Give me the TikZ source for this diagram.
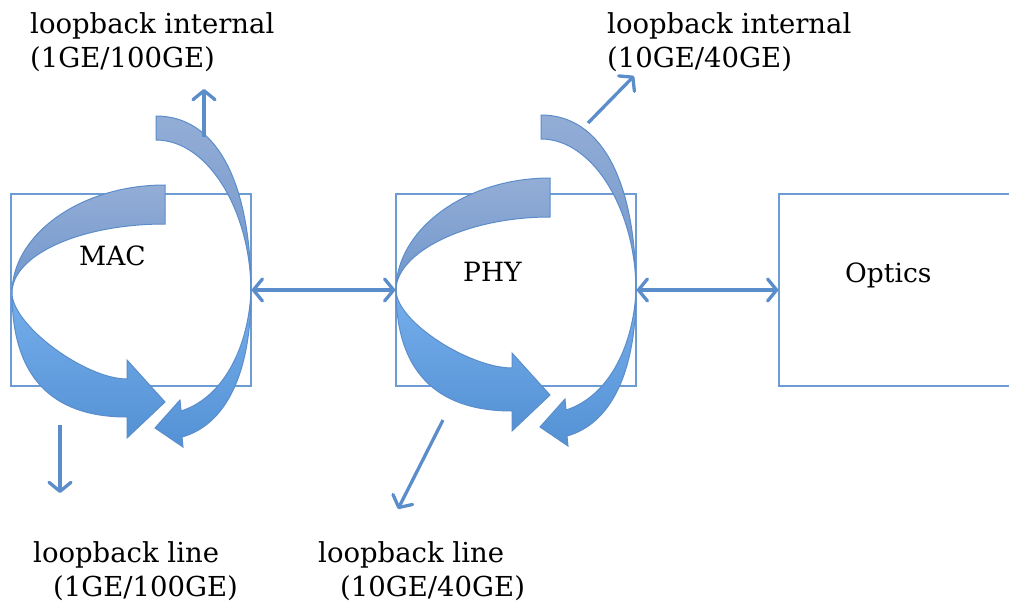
\documentclass[tikz,border=0pt]{standalone}
\usepackage{fontspec}
\setmainfont{DejaVu Serif}
\usetikzlibrary{arrows.meta}

\definecolor{edge}{HTML}{5B8DCB}
\definecolor{boxline}{HTML}{6D9BD3}
\definecolor{upA}{HTML}{93ADD6}
\definecolor{upB}{HTML}{7096CB}
\definecolor{loA}{HTML}{76AEEC}
\definecolor{loB}{HTML}{5492D5}

\newcommand\thinloopshape{%
  \path[backband] (156,116) .. controls (218,116) and (251,185) .. (251,292)
     .. controls (251,212) and (208.5,140) .. (156,140) -- cycle;
  \path[frontband] (251,292) .. controls (251,375) and (225,425) .. (182,437)
     -- (183,447) -- (155,428) -- (180,400) -- (181,411)
     .. controls (222,398) and (248,350) .. (251,292) -- cycle;
}

\begin{document}
\begin{tikzpicture}[x=1pt,y=-1pt,
  >={Straight Barb[length=9pt,width=22pt,line cap=round,line join=round]},
  blockbox/.style={draw=boxline, line width=1.5pt, fill=white, minimum width=240pt,
    minimum height=192pt, inner sep=0pt},
  lbl/.style={font=\fontsize{27.5}{33}\selectfont, anchor=base west, inner sep=0pt},
  boxlbl/.style={font=\fontsize{26.5}{32}\selectfont, anchor=base west, inner sep=0pt},
  link/.style={draw=edge, line width=3.3pt, <->},
  pointer/.style={draw=edge, line width=3.3pt, ->},
  backband/.style={draw=edge, line width=1pt, top color=upA, bottom color=upB},
  frontband/.style={draw=edge, line width=1pt, top color=loA, bottom color=loB},
]
\useasboundingbox (0,0) rectangle (1009,605);
\clip (0,0) rectangle (1009,605);

% boxes
\node[blockbox] (mac) at (131,290) {};
\node[blockbox] (phy) at (516,290) {};
\node[blockbox, minimum width=250pt] (optics) at (904,290) {};

% links
\draw[link] (mac.east) -- (phy.west);
\draw[link] (phy.east) -- (optics.west);

% curved loop arrows, MAC
\thinloopshape
\path[backband] (165,185) .. controls (80,185) and (12,235) .. (12,293)
   .. controls (12,255) and (80,224) .. (165,224) -- cycle;
\path[frontband] (12,293) .. controls (12,375) and (50,417) .. (127,417)
   -- (127,438) -- (165,402) -- (127,360) -- (127,379)
   .. controls (85,379) and (12,325) .. (12,293) -- cycle;

% curved loop arrows, PHY
\begin{scope}[shift={(385,-1)}]
\thinloopshape
\end{scope}
\path[backband] (550,178) .. controls (465,178) and (396,230) .. (396,290)
   .. controls (396,253) and (465,217) .. (550,217) -- cycle;
\path[frontband] (396,290) .. controls (396,370) and (435,411) .. (512,411)
   -- (512,431) -- (550,395) -- (512,353) -- (512,368)
   .. controls (470,368) and (396,322) .. (396,290) -- cycle;

% pointer arrows
\coordinate (upS) at (204,137);
\coordinate (upE) at (204,89);
\coordinate (diagS) at (588,123);
\coordinate (diagE) at (634,76);
\coordinate (dnS) at (60,425);
\coordinate (dnE) at (60,493);
\coordinate (dn2S) at (443,420);
\coordinate (dn2E) at (398,509);
\draw[pointer] (upS) -- (upE);
\draw[pointer] (diagS) -- (diagE);
\draw[pointer] (dnS) -- (dnE);
\draw[pointer] (dn2S) -- (dn2E);

% box labels
\node[boxlbl] (maclbl) at (79,265) {MAC};
\node[boxlbl] (phylbl) at (463,281) {PHY};
\node[boxlbl] (optlbl) at (845,282) {Optics};

% loopback labels
\node[lbl] (intA1) at (30,33) {loopback internal};
\node[lbl] (intA2) at (30,67) {(1GE/100GE)};
\node[lbl] (intB1) at (607,33) {loopback internal};
\node[lbl] (intB2) at (607,67) {(10GE/40GE)};
\node[lbl] (lineA1) at (33,562) {loopback line};
\node[lbl] (lineA2) at (53,596) {(1GE/100GE)};
\node[lbl] (lineB1) at (318,562) {loopback line};
\node[lbl] (lineB2) at (340,596) {(10GE/40GE)};
\end{tikzpicture}
\end{document}
